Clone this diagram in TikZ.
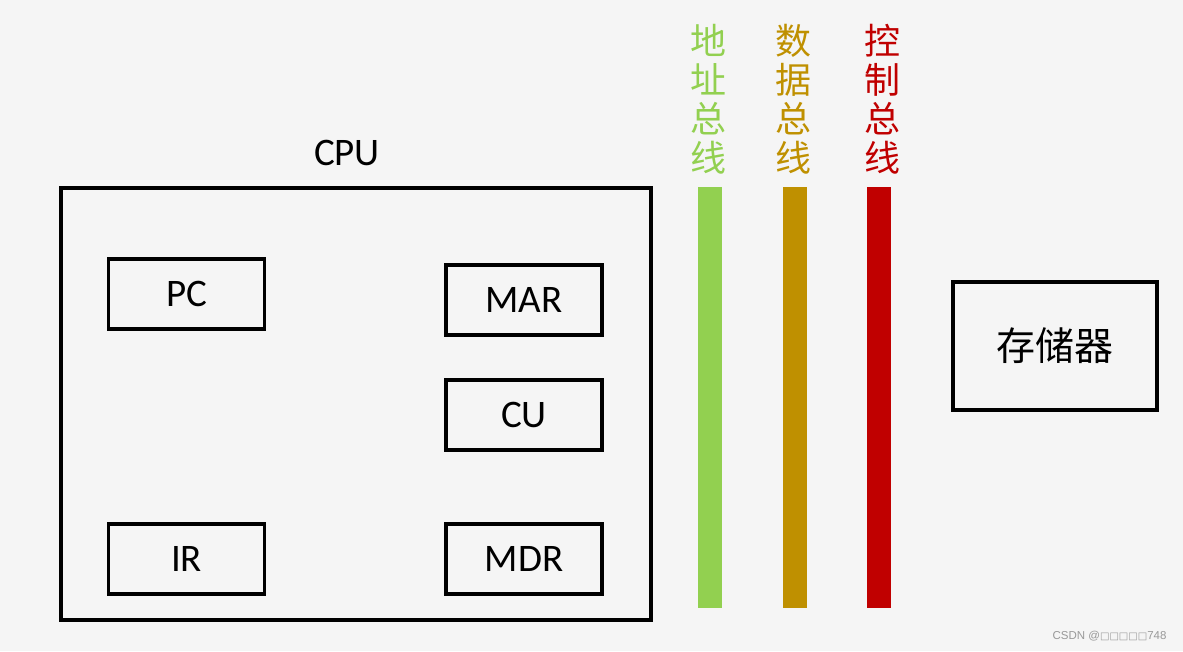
\documentclass[tikz,border=0pt]{standalone}
\usepackage{fontspec}
\setmainfont{Carlito}
\newfontfamily\cjk{Noto Sans CJK SC}
\newfontfamily\marksfont{DejaVu Sans}
\newfontfamily\arialfont{Liberation Sans}
\usepackage{xcolor}
\definecolor{pagebg}{RGB}{245, 245, 245}
\definecolor{addrgreen}{RGB}{146, 208, 80}
\definecolor{datagold}{RGB}{191, 144, 0}
\definecolor{ctrlred}{RGB}{192, 0, 0}

\begin{document}
\begin{tikzpicture}[x=1pt, y=-1pt,
  regbox/.style={draw, line width=3.5pt, minimum width=156pt, minimum height=70pt,
    inner sep=0pt, font=\fontsize{39}{39}\selectfont},
  busbar/.style={minimum width=24pt, minimum height=421pt, inner sep=0pt},
  buslabel/.style={align=center, inner sep=0pt, font=\cjk\fontsize{36}{39}\selectfont}]

  % --- Page ---
  \useasboundingbox (0,0) rectangle (1183,651);
  \fill[pagebg] (0,0) rectangle (1183,651);

  % --- CPU frame ---
  \node[draw, line width=4pt, minimum width=590pt, minimum height=432pt, inner sep=0pt]
    (cpu) at (355.5,403.5) {};
  \node[font=\fontsize{39}{39}\selectfont] (cpulabel) at (347,153) {CPU};

  % Registers
  \node[regbox] (pc)  at (186.5,294) {PC};
  \node[regbox] (mar) at (524,300)   {MAR};
  \node[regbox] (cu)  at (524,415)   {CU};
  \node[regbox] (ir)  at (186.5,559) {IR};
  \node[regbox] (mdr) at (524,559)   {MDR};

  % --- Buses ---
  \node[busbar, fill=addrgreen] (abus) at (710,397.5) {};
  \node[busbar, fill=datagold]  (dbus) at (794.5,397.5) {};
  \node[busbar, fill=ctrlred]   (cbus) at (879,397.5) {};

  \node[buslabel, text=addrgreen] (alabel) at (708,99) {地\\址\\总\\线};
  \node[buslabel, text=datagold]  (dlabel) at (793,99) {数\\据\\总\\线};
  \node[buslabel, text=ctrlred]   (clabel) at (882,99) {控\\制\\总\\线};

  % --- Memory ---
  \node[draw, line width=4pt, minimum width=204pt, minimum height=128pt, inner sep=0pt,
    font=\cjk\fontsize{39}{39}\selectfont] (mem) at (1054.5,345.5) {存储器};

  % watermark
  \node[anchor=east, text=gray!80, font=\arialfont\fontsize{11.5}{12}\selectfont]
    (mark) at (1170,636) {CSDN @{\marksfont\fontsize{10}{12}\selectfont □□□□□}748};

\end{tikzpicture}
\end{document}
